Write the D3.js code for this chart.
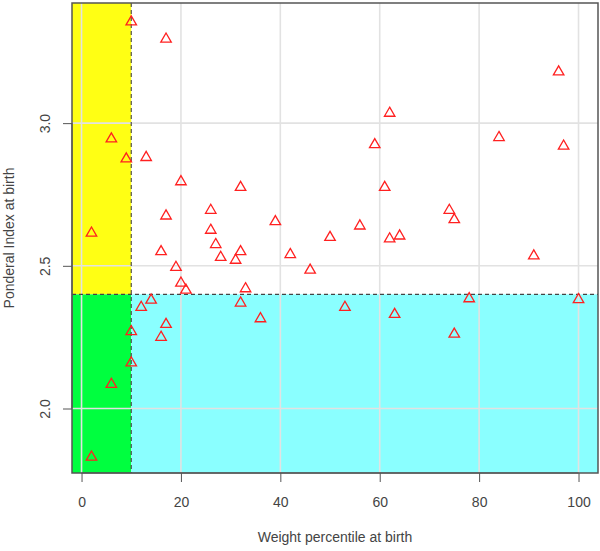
<!DOCTYPE html>
<html>
<head>
<meta charset="utf-8">
<script src="https://cdn.jsdelivr.net/npm/d3@7"></script>
<style>
  html, body { margin: 0; padding: 0; background: #fff; }
  svg { display: block; font-family: "Liberation Sans", Arial, sans-serif; }
</style>
</head>
<body>
<div id="chart"></div>
<script>
// ---- data ----
const weightPercentile = [10, 17, 6, 9, 13, 62, 59, 20, 32, 17, 26, 2, 26, 27, 16, 28, 32, 31, 19, 20, 21, 33, 14, 12, 32, 17, 10, 16, 10, 6, 2, 61, 39, 56, 50, 62, 64, 42, 46, 53, 63, 36, 96, 84, 97, 74, 75, 91, 78, 100, 75];
const ponderalIndex = [3.36, 3.30, 2.95, 2.88, 2.885, 3.04, 2.93, 2.80, 2.78, 2.68, 2.70, 2.62, 2.63, 2.58, 2.555, 2.535, 2.555, 2.525, 2.50, 2.445, 2.42, 2.425, 2.385, 2.36, 2.375, 2.30, 2.275, 2.255, 2.165, 2.09, 1.835, 2.78, 2.66, 2.645, 2.605, 2.60, 2.61, 2.545, 2.49, 2.36, 2.335, 2.32, 3.185, 2.955, 2.925, 2.70, 2.667, 2.54, 2.39, 2.387, 2.266];
const xTicks = [0, 20, 40, 60, 80, 100];
const yTicks = [2.0, 2.5, 3.0];
const yTickLabels = ["2.0", "2.5", "3.0"];
const xCutoff = [10];
const yCutoff = [2.4];
const xTitle = "Weight percentile at birth";
const yTitle = "Ponderal Index at birth";

// ---- layout ----
const W = 600, H = 551;
const plot = { left: 72, right: 598, top: 3, bottom: 473 };

function rExtend(ext) {
  const d = (ext[1] - ext[0]) * 0.04;
  return [ext[0] - d, ext[1] + d];
}

const x = d3.scaleLinear().domain(rExtend(d3.extent(weightPercentile))).range([plot.left, plot.right]);
const y = d3.scaleLinear().domain(rExtend(d3.extent(ponderalIndex))).range([plot.bottom, plot.top]);

const svg = d3.select("#chart").append("svg").attr("width", W).attr("height", H);

const [x0, x1] = x.domain();
const [y0, y1] = y.domain();
const xc = xCutoff[0], yc = yCutoff[0];

// coloured regions
const regions = [
  { xa: x0, xb: xc, ya: yc, yb: y1, color: "#ffff14" },
  { xa: x0, xb: xc, ya: y0, yb: yc, color: "#00ff3f" },
  { xa: xc, xb: x1, ya: y0, yb: yc, color: "#8affff" }
];
svg.append("g").selectAll("rect").data(regions).join("rect")
  .attr("x", d => x(d.xa)).attr("y", d => y(d.yb))
  .attr("width", d => x(d.xb) - x(d.xa)).attr("height", d => y(d.ya) - y(d.yb))
  .attr("fill", d => d.color);

// grid
const grid = svg.append("g").attr("stroke", "#e2e2e2").attr("stroke-width", 1.6);
grid.selectAll(".gx").data(xTicks).join("line")
  .attr("x1", d => x(d)).attr("x2", d => x(d)).attr("y1", plot.top).attr("y2", plot.bottom);
grid.selectAll(".gy").data(yTicks).join("line")
  .attr("y1", d => y(d)).attr("y2", d => y(d)).attr("x1", plot.left).attr("x2", plot.right);

// cutoff dashed lines
svg.append("line")
  .attr("x1", x(xc)).attr("x2", x(xc)).attr("y1", plot.top).attr("y2", plot.bottom)
  .attr("stroke", "#444").attr("stroke-width", 1.1).attr("stroke-dasharray", "4,3");
svg.append("line")
  .attr("x1", plot.left).attr("x2", plot.right).attr("y1", y(yc)).attr("y2", y(yc))
  .attr("stroke", "#444").attr("stroke-width", 1.1).attr("stroke-dasharray", "4,3");

// points (open triangles)
const side = 10.5, th = side * Math.sqrt(3) / 2;
const triPath = `M0,${-th / 2}L${side / 2},${th / 2}L${-side / 2},${th / 2}Z`;
svg.append("g").selectAll("path").data(weightPercentile.map((v, i) => [v, ponderalIndex[i]])).join("path")
  .attr("transform", d => `translate(${x(d[0])},${y(d[1])})`)
  .attr("d", triPath)
  .attr("fill", "none").attr("stroke", "#ff2020").attr("stroke-width", 1.3);

// box
svg.append("rect")
  .attr("x", plot.left).attr("y", plot.top)
  .attr("width", plot.right - plot.left).attr("height", plot.bottom - plot.top)
  .attr("fill", "none").attr("stroke", "#555").attr("stroke-width", 1.5);

// axes (R style)
const xAxis = d3.axisBottom(x).tickValues(xTicks).tickSize(9).tickPadding(15).tickFormat(d3.format("d"));
const gx = svg.append("g").attr("transform", `translate(0,${plot.bottom})`).call(xAxis);
gx.select(".domain").attr("d", `M${x(xTicks[0])},0H${x(xTicks[xTicks.length - 1])}`).attr("stroke", "#555");
gx.selectAll(".tick line").attr("stroke", "#555");
gx.selectAll("text").attr("fill", "#444").style("font-size", "14px").attr("font-family", "Liberation Sans, Arial, sans-serif");

const yAxis = d3.axisLeft(y).tickValues(yTicks).tickSize(9).tickFormat((d, i) => yTickLabels[i]);
const gy = svg.append("g").attr("transform", `translate(${plot.left},0)`).call(yAxis);
gy.select(".domain").attr("d", `M0,${y(yTicks[0])}V${y(yTicks[yTicks.length - 1])}`).attr("stroke", "#555");
gy.selectAll(".tick line").attr("stroke", "#555");
gy.selectAll("text")
  .attr("fill", "#444").style("font-size", "14px").attr("font-family", "Liberation Sans, Arial, sans-serif")
  .attr("x", null).attr("dy", null)
  .attr("text-anchor", "middle")
  .attr("transform", "translate(-27,0) rotate(-90)")
  .attr("dy", "0.35em");

// titles
svg.append("text")
  .attr("x", (plot.left + plot.right) / 2).attr("y", 542)
  .attr("text-anchor", "middle").attr("fill", "#444").style("font-size", "14px")
  .text(xTitle);
svg.append("text")
  .attr("transform", `translate(14,${(plot.top + plot.bottom) / 2}) rotate(-90)`)
  .attr("text-anchor", "middle").attr("fill", "#444").style("font-size", "14px")
  .text(yTitle);
</script>
</body>
</html>
